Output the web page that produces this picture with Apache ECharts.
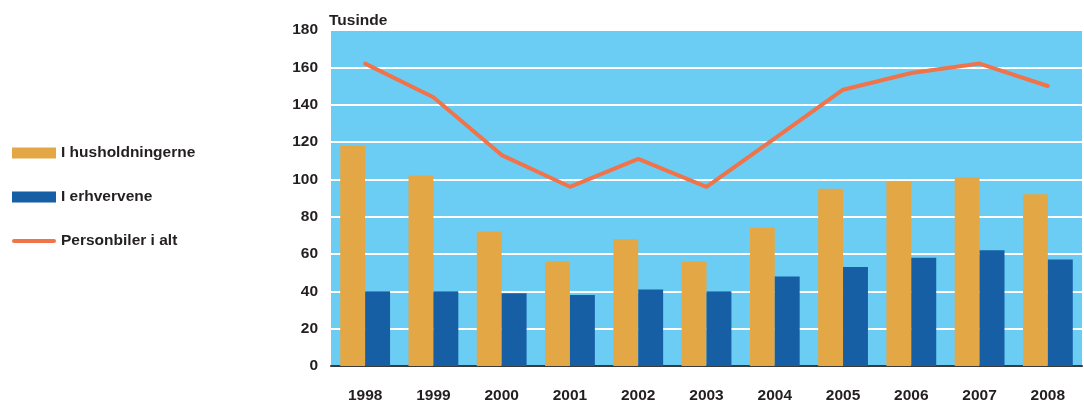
<!DOCTYPE html>
<html>
<head>
<meta charset="utf-8">
<script src="https://cdn.jsdelivr.net/npm/echarts@6/dist/echarts.min.js"></script>
<style>
  html, body { margin: 0; padding: 0; background: #fff; }
  #chart { width: 1084px; height: 402px; }
</style>
</head>
<body>
<div id="chart"></div>
<script>
// data (thousands)
var years = ['1998', '1999', '2000', '2001', '2002', '2003', '2004', '2005', '2006', '2007', '2008']
var husholdninger = [118, 102, 72, 56, 68, 56, 74, 95, 99, 101, 92]
var erhvervene = [40, 40, 39, 38, 41, 40, 48, 53, 58, 62, 57]
var personbiler = [162, 144, 113, 96, 111, 96, 122, 148, 157, 162, 150]

var font = '"Liberation Sans", Arial, sans-serif'
var textColor = '#231f20'
var labelStyle = { fontFamily: font, fontSize: 15.5, fontWeight: 'bold', color: textColor }

var chart = echarts.init(document.getElementById('chart'))
chart.setOption({
  animation: false,
  textStyle: { fontFamily: font },
  legend: {
    orient: 'vertical',
    left: 7,
    top: 140,
    itemWidth: 44,
    itemHeight: 11,
    itemGap: 28,
    textStyle: labelStyle,
    data: [
      { name: 'I husholdningerne', icon: 'rect' },
      { name: 'I erhvervene', icon: 'rect' },
      { name: 'Personbiler i alt', icon: 'path://M2,0 L42,0 A2,2 0 0 1 42,4 L2,4 A2,2 0 0 1 2,0 Z' }
    ]
  },
  grid: {
    left: 331,
    right: 2,
    top: 30,
    bottom: 36,
    containLabel: false,
    outerBoundsMode: 'none',
    show: true,
    backgroundColor: '#6bcdf4',
    borderWidth: 0
  },
  xAxis: {
    type: 'category',
    data: years,
    axisTick: { show: false },
    axisLine: { lineStyle: { color: '#3a3a3a', width: 2 } },
    axisLabel: Object.assign({ margin: 22 }, labelStyle)
  },
  yAxis: {
    type: 'value',
    min: 0,
    max: 180,
    interval: 20,
    name: 'Tusinde',
    nameLocation: 'end',
    nameGap: 1,
    nameTextStyle: Object.assign({ align: 'left', padding: [0, 0, 0, -2] }, labelStyle),
    axisLine: { show: false },
    axisTick: { show: false },
    axisLabel: Object.assign({ margin: 13 }, labelStyle),
    splitLine: { lineStyle: { color: '#ffffff', width: 2 } }
  },
  series: [
    {
      name: 'I husholdningerne',
      type: 'bar',
      data: husholdninger,
      barGap: '0%',
      barCategoryGap: '27%',
      itemStyle: { color: '#e3a845' }
    },
    {
      name: 'I erhvervene',
      type: 'bar',
      data: erhvervene,
      itemStyle: { color: '#165fa5' }
    },
    {
      name: 'Personbiler i alt',
      type: 'line',
      data: personbiler,
      symbol: 'none',
      lineStyle: { color: '#f0734a', width: 4, cap: 'round' },
      itemStyle: { color: '#f0734a' }
    }
  ]
})
</script>
</body>
</html>
